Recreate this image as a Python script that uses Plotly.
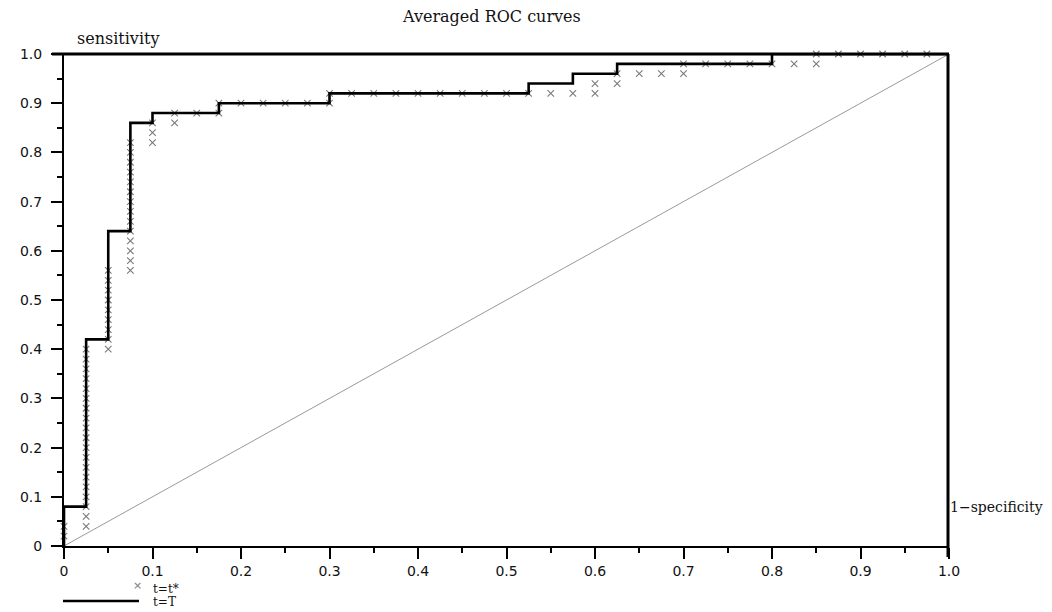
import plotly.graph_objects as go

# ---------------- data ----------------
# t=T : averaged ROC step curve (corner points)
step_fpr = [0, 0, 0.025, 0.05, 0.075, 0.1, 0.175, 0.3, 0.525, 0.575, 0.625, 0.8, 1.0]
step_tpr = [0, 0.08, 0.42, 0.64, 0.86, 0.88, 0.90, 0.92, 0.94, 0.96, 0.98, 1.0, 1.0]

# t=t* : averaged ROC points (crosses)
star_fpr = [0, 0,
            0.025, 0.025, 0.025, 0.025, 0.025, 0.025, 0.025, 0.025, 0.025, 0.025,
            0.025, 0.025, 0.025, 0.025, 0.025, 0.025, 0.025, 0.025, 0.025,
            0.05, 0.05, 0.05, 0.05, 0.05, 0.05, 0.05, 0.05, 0.05,
            0.075, 0.075, 0.075, 0.075, 0.075, 0.075, 0.075, 0.075, 0.075, 0.075,
            0.075, 0.075, 0.075, 0.075,
            0.1, 0.1, 0.1,
            0.125, 0.125,
            0.15,
            0.175, 0.175,
            0.2, 0.225, 0.25, 0.275,
            0.3, 0.3,
            0.325, 0.35, 0.375, 0.4, 0.425, 0.45, 0.475, 0.5, 0.525,
            0.55, 0.575,
            0.6, 0.6,
            0.625, 0.625,
            0.65, 0.675,
            0.7, 0.7,
            0.725, 0.75, 0.775, 0.8, 0.825,
            0.85, 0.85,
            0.875, 0.9, 0.925, 0.95, 0.975]
star_tpr = [0.02, 0.04,
            0.04, 0.06, 0.08, 0.10, 0.12, 0.14, 0.16, 0.18, 0.20, 0.22,
            0.24, 0.26, 0.28, 0.30, 0.32, 0.34, 0.36, 0.38, 0.40,
            0.40, 0.42, 0.44, 0.46, 0.48, 0.50, 0.52, 0.54, 0.56,
            0.56, 0.58, 0.60, 0.62, 0.64, 0.66, 0.68, 0.70, 0.72, 0.74,
            0.76, 0.78, 0.80, 0.82,
            0.82, 0.84, 0.86,
            0.86, 0.88,
            0.88,
            0.88, 0.90,
            0.90, 0.90, 0.90, 0.90,
            0.90, 0.92,
            0.92, 0.92, 0.92, 0.92, 0.92, 0.92, 0.92, 0.92, 0.92,
            0.92, 0.92,
            0.92, 0.94,
            0.94, 0.96,
            0.96, 0.96,
            0.96, 0.98,
            0.98, 0.98, 0.98, 0.98, 0.98,
            0.98, 1.0,
            1.0, 1.0, 1.0, 1.0, 1.0]

diag_x = [0, 1]
diag_y = [0, 1]

tick_vals = [0, 0.1, 0.2, 0.3, 0.4, 0.5, 0.6, 0.7, 0.8, 0.9, 1.0]
x_tick_text = ["0", "0.1", "0.2", "0.3", "0.4", "0.5", "0.6", "0.7", "0.8", "0.9", "1.0"]
y_tick_text = ["0", "0.1", "0.2", "0.3", "0.4", "0.5", "0.6", "0.7", "0.8", "0.9", "1.0"]

# ---------------- layout geometry (page pixels) ----------------
PAGE_W, PAGE_H = 1052, 612
BODY = 8                      # default body margin of the page
L, T, R, B = 64, 54, 949, 546  # plot area in page pixels
PW, PH = R - L, B - T


def px(x):
    return (x - L) / PW


def py(y):
    return (B - y) / PH


SERIF = "DejaVu Serif"
SANS = "DejaVu Sans"

fig = go.Figure()

fig.add_trace(go.Scatter(x=diag_x, y=diag_y, mode="lines",
                         line=dict(color="#9a9a9a", width=1),
                         showlegend=False, hoverinfo="skip"))

fig.add_trace(go.Scatter(x=star_fpr, y=star_tpr, mode="markers", name="t=t*",
                         marker=dict(symbol="x-thin", size=6.5, color="#7a7a7a",
                                     line=dict(width=1.1, color="#7a7a7a")),
                         cliponaxis=False, showlegend=False))

fig.add_trace(go.Scatter(x=step_fpr, y=step_tpr, mode="lines", name="t=T",
                         line=dict(color="black", width=2.6, shape="hv"),
                         cliponaxis=False, showlegend=False))

axis_common = dict(
    range=[0, 1], showgrid=False, zeroline=False,
    showline=True, linecolor="black", linewidth=2,
    ticks="outside", ticklen=11, tickwidth=1.5, tickcolor="black",
    tickmode="array", tickvals=tick_vals,
    tickfont=dict(family=SANS, size=14, color="#111111"),
    minor=dict(ticks="outside", ticklen=5, tickwidth=2, tickcolor="black",
               dtick=0.05, tick0=0, showgrid=False),
    fixedrange=True,
)

fig.update_layout(
    width=PAGE_W - BODY, height=PAGE_H - BODY,
    margin=dict(l=L - BODY, r=PAGE_W - R, t=T - BODY, b=PAGE_H - B, pad=0),
    paper_bgcolor="white", plot_bgcolor="white",
    showlegend=False,
    xaxis=dict(axis_common, ticktext=x_tick_text),
    yaxis=dict(axis_common, ticktext=y_tick_text, ticklabelstandoff=6),
    font=dict(family=SERIF, size=14, color="black"),
)

# frame: thick top and right border
fig.add_shape(type="line", xref="paper", yref="paper",
              x0=px(52), x1=px(949), y0=py(54), y1=py(54),
              line=dict(color="black", width=3))
fig.add_shape(type="line", xref="paper", yref="paper",
              x0=px(948), x1=px(948), y0=py(54), y1=py(557),
              line=dict(color="black", width=3))

# texts
fig.add_annotation(text="Averaged ROC curves", xref="paper", yref="paper",
                   x=px(400), y=py(16), xanchor="left", yanchor="middle",
                   showarrow=False, font=dict(family=SERIF, size=16, color="#111111"))
fig.add_annotation(text="sensitivity", xref="paper", yref="paper",
                   x=px(75), y=py(39), xanchor="left", yanchor="middle",
                   showarrow=False, font=dict(family=SERIF, size=16, color="#111111"))
fig.add_annotation(text="1\u2212specificity", xref="paper", yref="paper",
                   x=px(948), y=py(507), xanchor="left", yanchor="middle",
                   showarrow=False, font=dict(family=SERIF, size=14, color="#111111"))

# legend (bottom-left)
fig.add_annotation(text="\u00d7", xref="paper", yref="paper",
                   x=px(137), y=py(585), xanchor="center", yanchor="middle",
                   showarrow=False, font=dict(family=SANS, size=11, color="#7a7a7a"))
fig.add_annotation(text="t=t*", xref="paper", yref="paper",
                   x=px(151), y=py(589), xanchor="left", yanchor="middle",
                   showarrow=False, font=dict(family=SERIF, size=12, color="#111111"))
fig.add_shape(type="line", xref="paper", yref="paper",
              x0=px(63), x1=px(139), y0=py(601), y1=py(601),
              line=dict(color="black", width=2.6))
fig.add_annotation(text="t=T", xref="paper", yref="paper",
                   x=px(151), y=py(602), xanchor="left", yanchor="middle",
                   showarrow=False, font=dict(family=SERIF, size=12, color="#111111"))

fig.write_html("out.html")
